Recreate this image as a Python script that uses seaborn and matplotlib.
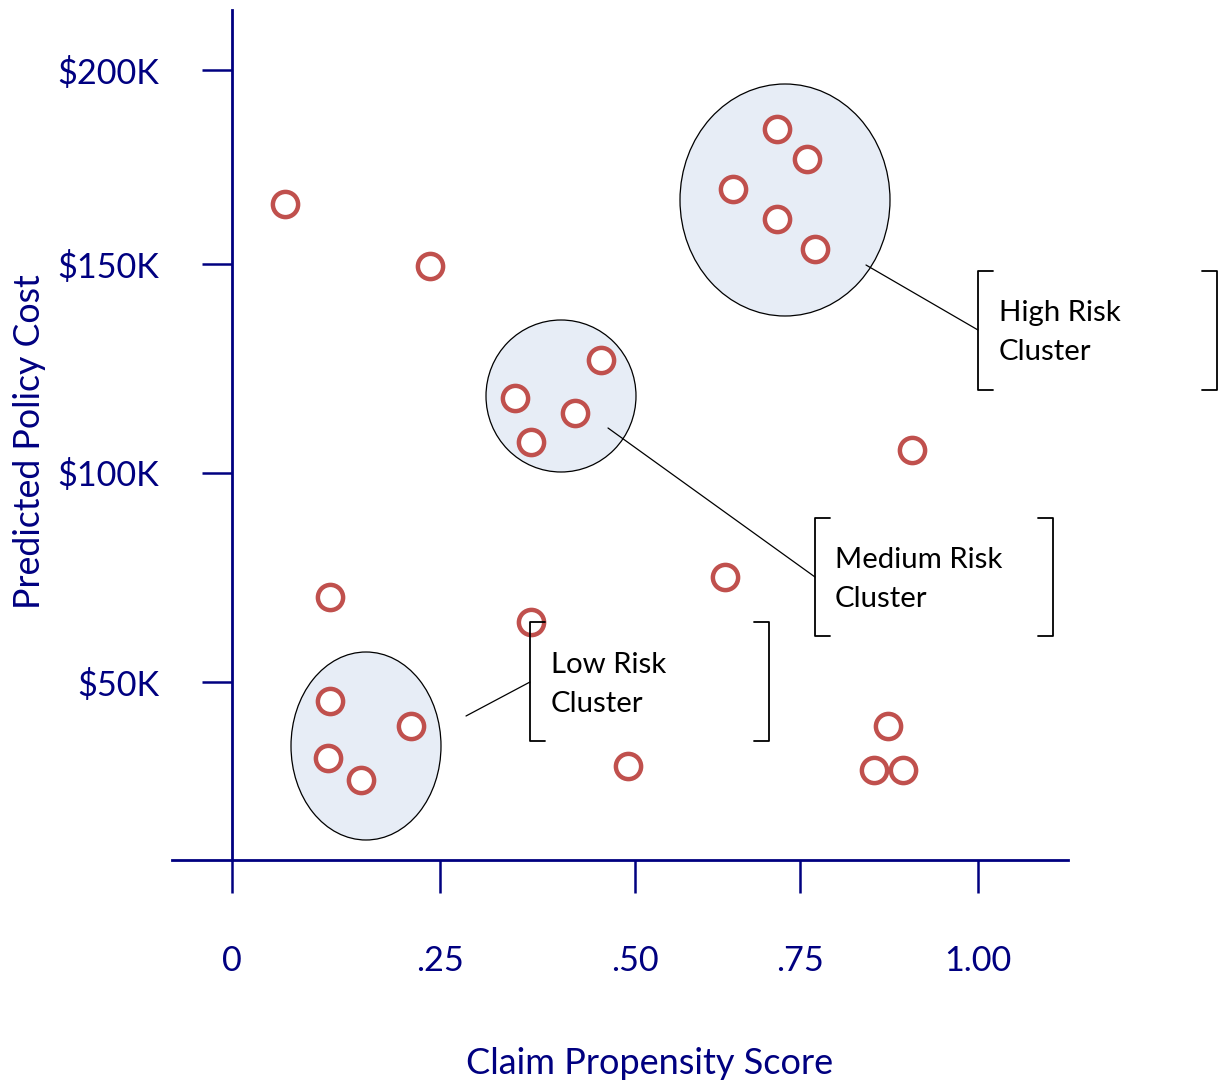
import numpy as np
import pandas as pd
import matplotlib
matplotlib.use("Agg")
import matplotlib.pyplot as plt
from matplotlib.patches import Ellipse
import seaborn as sns

# ---- data -------------------------------------------------------------
propensity = [0.064, 0.238, 0.118, 0.367, 0.636, 0.907, 0.491, 0.874, 0.854, 0.895,
              0.715, 0.760, 0.648, 0.715, 0.771,
              0.456, 0.346, 0.423, 0.367,
              0.118, 0.215, 0.115, 0.155]
policy_cost_k = [165.5, 149.5, 70.3, 64.4, 75.1, 105.5, 29.9, 39.5, 28.9, 28.9,
                 184.8, 177.1, 169.3, 161.6, 153.9,
                 127.0, 117.9, 114.4, 107.4,
                 45.5, 39.5, 31.8, 26.6]

x_tick_values = [0.0, 0.25, 0.50, 0.75, 1.00]
x_tick_labels = ["0", ".25", ".50", ".75", "1.00"]
y_tick_values = [50, 100, 150, 200]
y_tick_labels = ["$50K", "$100K", "$150K", "$200K"]

cluster_names = ["High Risk\nCluster", "Medium Risk\nCluster", "Low Risk\nCluster"]

# ---- figure ------------------------------------------------------------
W, H = 1219, 1085
NAVY = "#000080"
RED = "#C0504D"
FILL = "#E7EDF6"

sns.set_style("white")
plt.rcParams["font.family"] = ["Lato", "DejaVu Sans"]

fig = plt.figure(figsize=(W / 100, H / 100), dpi=100)
ax = fig.add_axes([0, 0, 1, 1])
ax.patch.set_visible(False)


def piecewise(vals, pix):
    vals = np.asarray(vals, float)
    pix = np.asarray(pix, float)
    s0 = (pix[1] - pix[0]) / (vals[1] - vals[0])
    s1 = (pix[-1] - pix[-2]) / (vals[-1] - vals[-2])

    def fwd(v):
        v = np.asarray(v, float)
        out = np.interp(v, vals, pix)
        out = np.where(v < vals[0], pix[0] + (v - vals[0]) * s0, out)
        return np.where(v > vals[-1], pix[-1] + (v - vals[-1]) * s1, out)

    def inv(p):
        p = np.asarray(p, float)
        out = np.interp(p, pix, vals)
        out = np.where(p < pix[0], vals[0] + (p - pix[0]) / s0, out)
        return np.where(p > pix[-1], vals[-1] + (p - pix[-1]) / s1, out)

    return fwd, inv


# hand-drawn axis: tick spacing is uneven, so each axis uses a piecewise scale
fx, fx_inv = piecewise(x_tick_values, [232, 440, 635, 800, 978])
fy, fy_inv = piecewise(y_tick_values, [H - 682, H - 473, H - 264, H - 70])
ax.set_xscale("function", functions=(fx, fx_inv))
ax.set_yscale("function", functions=(fy, fy_inv))
ax.set_xlim(float(fx_inv(0)), float(fx_inv(W)))
ax.set_ylim(float(fy_inv(0)), float(fy_inv(H)))


def fig_xy(px, py):
    return px / W, 1 - py / H


# cluster ellipses
for (cx, cy, w, h) in [(785, 200, 210, 232), (561, 396, 150, 152), (366, 746, 150, 188)]:
    ax.add_patch(Ellipse(fig_xy(cx, cy), w / W, h / H, transform=fig.transFigure,
                         facecolor=FILL, edgecolor="black", linewidth=0.9, zorder=1))

df = pd.DataFrame({"propensity": propensity, "cost": policy_cost_k})
sns.scatterplot(data=df, x="propensity", y="cost", ax=ax, marker="o", s=330,
                facecolor="white", edgecolor=RED, linewidth=3.2, zorder=3, legend=False)

# axes lines
x_base = float(fy_inv(H - 860))
for side in ["top", "right"]:
    ax.spines[side].set_visible(False)
ax.spines["left"].set_position(("data", 0.0))
ax.spines["left"].set_bounds(x_base, float(fy_inv(H - 10)))
ax.spines["bottom"].set_position(("data", x_base))
ax.spines["bottom"].set_bounds(float(fx_inv(172)), float(fx_inv(1068)))
for sp in ["left", "bottom"]:
    ax.spines[sp].set_color(NAVY)
    ax.spines[sp].set_linewidth(2.0)

ax.set_xticks(x_tick_values, x_tick_labels)
ax.set_yticks(y_tick_values, y_tick_labels)
ax.tick_params(axis="y", left=True, direction="out", length=21.6, width=1.8, color=NAVY,
               labelcolor=NAVY, labelsize=24.7, pad=31)
ax.tick_params(axis="x", bottom=True, direction="out", length=24, width=1.8, color=NAVY,
               labelcolor=NAVY, labelsize=24.7, pad=37)
ax.minorticks_off()

ax.set_xlabel("Claim Propensity Score", color=NAVY, fontsize=26)
ax.set_ylabel("Predicted Policy Cost", color=NAVY, fontsize=25.7)
ax.xaxis.set_label_coords(650 / W, 1 - 1063 / H)
ax.yaxis.set_label_coords(30 / W, 1 - 442 / H)
ax.xaxis.label.set_va("center")
ax.yaxis.label.set_va("center")

# callouts: leader line, bracket pair and caption
callouts = [
    dict(line=((866, 265), (978, 330)), left=978, right=1217, top=271, bottom=390, text=(999, 332.5)),
    dict(line=((608, 428), (815, 577)), left=815, right=1053, top=518, bottom=636, text=(835, 579.5)),
    dict(line=((466, 716), (530, 682)), left=530, right=769, top=622, bottom=741, text=(551, 684.5)),
]
arm = 15
for name, c in zip(cluster_names, callouts):
    (x0, y0), (x1, y1) = c["line"]
    ax.plot(*zip(fig_xy(x0, y0), fig_xy(x1, y1)), transform=fig.transFigure,
            color="black", linewidth=0.9, zorder=4)
    l, r, t, b = c["left"], c["right"], c["top"], c["bottom"]
    ax.plot(*zip(fig_xy(l + arm, t), fig_xy(l, t), fig_xy(l, b), fig_xy(l + arm, b)),
            transform=fig.transFigure, color="black", linewidth=1.3, zorder=4)
    ax.plot(*zip(fig_xy(r - arm, t), fig_xy(r, t), fig_xy(r, b), fig_xy(r - arm, b)),
            transform=fig.transFigure, color="black", linewidth=1.3, zorder=4)
    fig.text(*fig_xy(*c["text"]), name, ha="left", va="center", fontsize=21.2,
             color="black", linespacing=1.65)

fig.savefig("out.png", dpi=100)
